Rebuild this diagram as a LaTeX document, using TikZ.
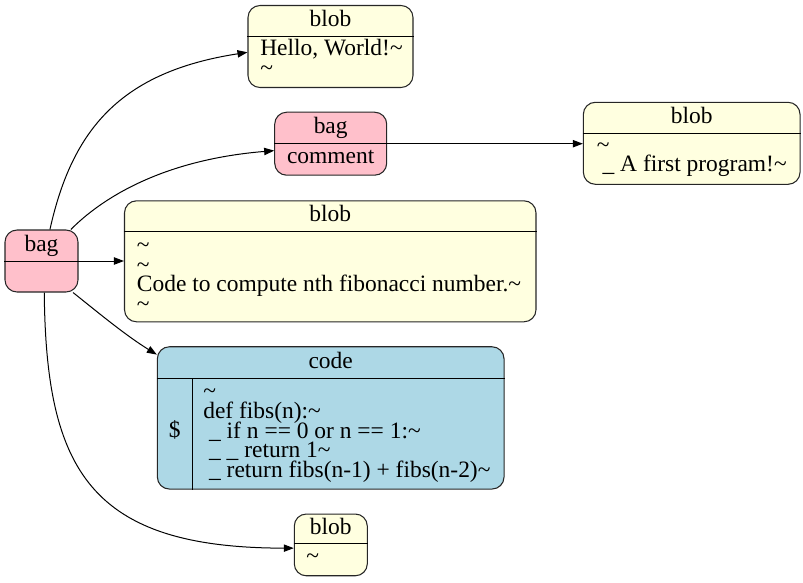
\documentclass[tikz,border=0pt]{standalone}
\usepackage{fontspec}
\setmainfont{Liberation Serif}
\usetikzlibrary{arrows.meta}
\definecolor{BagPink}{RGB}{255,192,203}
\definecolor{BlobYellow}{RGB}{255,255,224}
\definecolor{CodeBlue}{RGB}{173,216,230}
\newcommand{\recfont}{\fontsize{17.6pt}{14.7pt}\selectfont\lineskiplimit=-100pt}
\newcommand{\lead}{\hspace*{.25em}}
\tikzset{
  rec/.style={draw=black!85,line width=0.8pt,rounded corners=9pt,inner sep=0pt},
  bagrec/.style={rec,fill=BagPink},
  blobrec/.style={rec,fill=BlobYellow},
  coderec/.style={rec,fill=CodeBlue},
  lbl/.style={inner sep=0pt,font=\recfont,anchor=base},
  body/.style={inner sep=0pt,font=\recfont,anchor=base west,align=left},
  edge/.style={draw=black,line width=0.75pt,-{Triangle[length=7.5pt,width=5.5pt]}},
}

\begin{document}
\begin{tikzpicture}[x=0.75pt,y=-0.75pt]
  \useasboundingbox (0,0) rectangle (803,582);
  % records (body text sits on the baseline of its last line)
  \node[bagrec,minimum width=54.75pt,minimum height=46.5pt] (bag) at (41.5,261) {};
  \node[lbl] (bagT) at (41.5,251.4) {bag};
  \draw (bag.west |- 0,261) -- (bag.east |- 0,261);

  \node[blobrec,minimum width=123.75pt,minimum height=61.5pt] (hello) at (330.5,46.5) {};
  \node[lbl] (helloT) at (330.5,26.7) {blob};
  \draw (hello.west |- 0,36) -- (hello.east |- 0,36);
  \node[body] (helloB) at (260,75.5) {Hello, World!\textasciitilde\\\textasciitilde};

  \node[bagrec,minimum width=84pt,minimum height=47.25pt] (comment) at (330.7,143.7) {};
  \node[lbl] (commentT) at (330.7,133.5) {bag};
  \draw (comment.west |- 0,143.3) -- (comment.east |- 0,143.3);
  \node[lbl] (commentB) at (330.7,163.6) {comment};

  \node[blobrec,minimum width=162.5pt,minimum height=61.5pt] (first) at (691.7,143.3) {};
  \node[lbl] (firstT) at (691.7,123.8) {blob};
  \draw (first.west |- 0,133.3) -- (first.east |- 0,133.3);
  \node[body] (firstB) at (596.5,171.8) {\textasciitilde\\\lead\_ A first program!\textasciitilde};

  \node[blobrec,minimum width=308.6pt,minimum height=90.75pt] (fibdoc) at (330.25,261.3) {};
  \node[lbl] (fibdocT) at (330.25,221.7) {blob};
  \draw (fibdoc.west |- 0,231) -- (fibdoc.east |- 0,231);
  \node[body] (fibdocB) at (136.7,311.3) {\textasciitilde\\\textasciitilde\\
    Code to compute nth fibonacci number.\textasciitilde\\\textasciitilde};

  \node[coderec,minimum width=260pt,minimum height=106.7pt] (code) at (330.7,417.9) {};
  \node[lbl] (codeT) at (330.7,368.2) {code};
  \draw (code.west |- 0,378.3) -- (code.east |- 0,378.3);
  \draw (192.3,378.3) -- (code.south -| 192.3,0);
  \node[lbl] (codeS) at (174.8,437.5) {\$};
  \node[body] (codeB) at (203,477.2) {\textasciitilde\\
    def fibs(n):\textasciitilde\\
    \lead\_ if n == 0 or n == 1:\textasciitilde\\
    \lead\_ \_ return 1\textasciitilde\\
    \lead\_ return fibs(n-1) + fibs(n-2)\textasciitilde};

  \node[blobrec,minimum width=54.75pt,minimum height=46.3pt] (empty) at (330.8,544.9) {};
  \node[lbl] (emptyT) at (330.8,534.7) {blob};
  \draw (empty.west |- 0,543.3) -- (empty.east |- 0,543.3);
  \node[body] (emptyB) at (306,563.5) {\textasciitilde};

  % edges
  \draw[edge] (bag.75) .. controls (72,130) and (120,72) .. (hello.184);
  \draw[edge] (bag.47) .. controls (100,200) and (160,160) .. (comment.187);
  \draw[edge] (bag.east) -- (bag.east -| fibdoc.west);
  \draw[edge] (bag.-45) .. controls (95,310) and (125,335) .. (code.160);
  \draw[edge] (bag.-85) .. controls (46,470) and (90,548) .. (empty.185);
  \draw[edge] (comment.east) -- (comment.east -| first.west);
\end{tikzpicture}
\end{document}
